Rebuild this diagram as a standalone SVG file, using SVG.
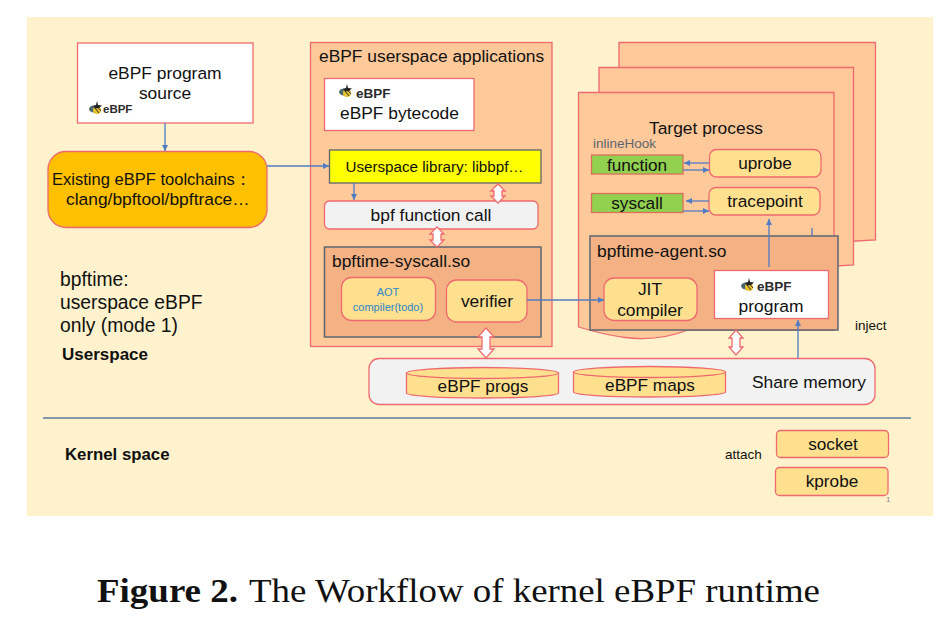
<svg xmlns="http://www.w3.org/2000/svg" width="950" height="618" viewBox="0 0 950 618">
<style>
text{font-family:"Liberation Sans",Arial,sans-serif;fill:#111}
.m{text-anchor:middle}
.t{font-size:17.4px}
.s{font-size:17.2px}
.box{stroke:#ef6a70;stroke-width:1.3}
.peach{fill:#ffc999}
.gold{fill:#ffe08f}
.white{fill:#fff}
.grey{fill:#f2f2f2}
.dark{fill:#f4b183;stroke:#5c6670;stroke-width:1.5}
.link{fill:none;stroke:#4f7cc4;stroke-width:1.3}
.dbl{fill:#fff;stroke:#ef6a70;stroke-width:1.3}
.logo{font-size:13.500px;font-weight:bold;fill:#2b2b2b}
</style>
<defs>
<marker id="a" markerWidth="8" markerHeight="8" refX="6" refY="3" orient="auto" markerUnits="userSpaceOnUse"><path d="M0 0L6 3L0 6Z" fill="#4f7cc4"/></marker>
<g id="bee"><ellipse cx="5" cy="7" rx="5" ry="3.500" fill="#4a6a70"/><ellipse cx="8" cy="8" rx="4" ry="4" fill="#e8c32c"/><path d="M6 6L10 11M8.500 5L12 9" stroke="#333" stroke-width="1"/><path d="M8 -1L9 3L13 3.500L10 6L6 6.500L4 4L7 3Z" fill="#222"/></g>
</defs>
<rect width="950" height="618" fill="#fff"/>
<rect x="27" y="17" width="906" height="499" fill="#fff2cc"/>

<g id="divider"><line x1="43" y1="418" x2="911" y2="418" stroke="#5b7a9e" stroke-width="1.3"/></g>

<g id="source"><rect class="box white" x="77.500" y="43" width="175.500" height="80"/><text class="m t" x="165" y="79">eBPF program</text><text class="m t" x="165" y="99">source</text><use href="#bee" x="89" y="102"/><text class="logo" style="font-size:11.500px" x="103" y="113">eBPF</text></g>
<g id="toolchains"><rect class="box" fill="#ffc000" x="48" y="151.500" width="219" height="76" rx="18"/><text class="t" x="52" y="185" textLength="199" lengthAdjust="spacingAndGlyphs">Existing eBPF toolchains：</text><text class="t" x="66" y="205">clang/bpftool/bpftrace…</text></g>

<g id="userspace-apps"><rect class="box peach" x="310.500" y="42.500" width="241.500" height="304"/><text class="t" x="319" y="62">eBPF userspace applications</text></g>
<g id="bytecode"><rect class="box white" x="324.500" y="78.500" width="149.500" height="52"/><use href="#bee" x="339" y="85"/><text class="logo" x="356" y="98">eBPF</text><text class="t" x="340" y="119">eBPF bytecode</text></g>
<g id="libbpf"><rect x="329.500" y="150" width="211.500" height="33" fill="#ffff00" stroke="#5c6670" stroke-width="1.300"/><text class="m" font-size="15.200" x="434.500" y="172">Userspace library: libbpf…</text></g>
<g id="bpf-call"><rect class="box grey" x="324.500" y="201" width="213.500" height="28" rx="5"/><text class="m t" x="431" y="221">bpf function call</text></g>
<g id="syscall-so"><rect class="dark" x="324.500" y="247" width="216.500" height="90"/><text class="t" x="332" y="267">bpftime-syscall.so</text></g>
<g id="aot"><rect class="box gold" x="341.500" y="277.500" width="94" height="43" rx="10"/><text class="m" font-size="11" style="fill:#2e86c8" x="388" y="296">AOT</text><text class="m" font-size="11" style="fill:#2e86c8" x="388" y="311">compiler(todo)</text></g>
<g id="verifier"><rect class="box gold" x="446.500" y="280" width="80.500" height="42" rx="10"/><text class="m t" x="487" y="307">verifier</text></g>

<g id="process-back"><path class="box peach" d="M619 42.500H875.500V240L840 242H619Z"/></g>
<g id="process-mid"><path class="box peach" d="M599 67.500H853.500V265L820 267H599Z"/></g>
<g id="target-process"><path class="box peach" d="M578.500 92.500H834V330H688C650 345 615 338 578.500 327Z"/><text class="m t" x="706" y="134">Target process</text><text font-size="13.500" style="fill:#5c6670" x="593" y="148">inlineHook</text></g>
<g id="function"><rect x="591.500" y="155" width="91.500" height="19" fill="#92d050" stroke="#d9705a" stroke-width="1.300"/><text class="m s" x="637" y="171">function</text></g>
<g id="syscall"><rect x="591.500" y="193.500" width="91.500" height="19" fill="#92d050" stroke="#d9705a" stroke-width="1.300"/><text class="m s" x="637" y="209">syscall</text></g>
<g id="uprobe"><rect class="box gold" x="709.500" y="149.500" width="111.500" height="27.500" rx="7"/><text class="m s" x="765" y="169">uprobe</text></g>
<g id="tracepoint"><rect class="box gold" x="709" y="187.500" width="111" height="27.500" rx="7"/><text class="m s" x="765" y="207">tracepoint</text></g>
<g id="agent"><rect class="dark" x="590" y="236" width="248" height="94"/><text class="t" x="597" y="257">bpftime-agent.so</text></g>
<g id="jit"><rect class="box gold" x="604" y="278" width="93" height="42.500" rx="10"/><text class="m t" x="650" y="295">JIT</text><text class="m t" x="650" y="316">compiler</text></g>
<g id="program"><rect class="box white" x="714.500" y="270.500" width="114" height="48"/><use href="#bee" x="741" y="279"/><text class="logo" x="757" y="291">eBPF</text><text class="m t" x="771" y="312">program</text></g>

<g id="share-memory"><rect class="box grey" x="369" y="358.500" width="506" height="46" rx="10"/><text class="t" x="752" y="388">Share memory</text></g>
<g id="progs"><path class="box gold" d="M406.500 373V393A76 5 0 0 0 558.500 393V373Z"/><ellipse class="box gold" cx="482.500" cy="373" rx="76" ry="5.500"/><text class="m s" x="483" y="392">eBPF progs</text></g>
<g id="maps"><path class="box gold" d="M573.500 372V392A76 5 0 0 0 725.500 392V372Z"/><ellipse class="box gold" cx="649.500" cy="372" rx="76" ry="5.500"/><text class="m s" x="650" y="391">eBPF maps</text></g>

<g id="socket"><rect class="box gold" x="776.500" y="430.500" width="112" height="27" rx="4"/><text class="m s" x="833" y="450">socket</text></g>
<g id="kprobe"><rect class="box gold" x="775.500" y="467.500" width="112.500" height="28" rx="4"/><text class="m s" x="832" y="487">kprobe</text></g>

<g id="connectors">
<path class="link" marker-end="url(#a)" d="M165 123V151"/>
<path class="link" marker-end="url(#a)" d="M267 166H329"/>
<path class="link" marker-end="url(#a)" d="M354 183V200"/>
<path class="link" marker-end="url(#a)" d="M527 300H604"/>
<path class="link" marker-end="url(#a)" d="M709 163H684"/>
<path class="link" marker-end="url(#a)" d="M683 170H709"/>
<path class="link" marker-end="url(#a)" d="M709 201H686"/>
<path class="link" marker-end="url(#a)" d="M683 211H709"/>
<path class="link" marker-end="url(#a)" d="M769 267V219"/>
<path class="link" d="M812 228V236"/>
<path class="link" marker-end="url(#a)" d="M798 358V320"/>
<path class="dbl" d="M498 184L505 191H502V196H505L498 203L491 196H494V191H491Z"/>
<path class="dbl" d="M437 227L444 234H441V240H444L437 247L430 240H433V234H430Z"/>
<path class="dbl" d="M486 328L494 337H490V349H494L486 358L478 349H482V337H478Z"/>
<path class="dbl" d="M736 330L743 338H740V347H743L736 355L729 347H732V338H729Z"/>
</g>

<text font-size="19.300" x="60" y="286">bpftime:</text>
<text font-size="19.300" x="60" y="309">userspace eBPF</text>
<text font-size="19.300" x="60" y="332">only (mode 1)</text>
<text font-size="17" font-weight="bold" x="62" y="360">Userspace</text>
<text font-size="16.800" font-weight="bold" x="65" y="460">Kernel space</text>
<text font-size="13.500" x="855" y="330">inject</text>
<text font-size="13.500" x="725" y="459">attach</text>
<text font-size="8" style="fill:#888" x="886" y="502">1</text>
<text font-size="34" font-weight="bold" style="font-family:'Liberation Serif',serif" x="97" y="602" textLength="141" lengthAdjust="spacingAndGlyphs">Figure 2.</text>
<text font-size="34" style="font-family:'Liberation Serif',serif" x="249" y="602" textLength="571" lengthAdjust="spacingAndGlyphs">The Workflow of kernel eBPF runtime</text>
</svg>
